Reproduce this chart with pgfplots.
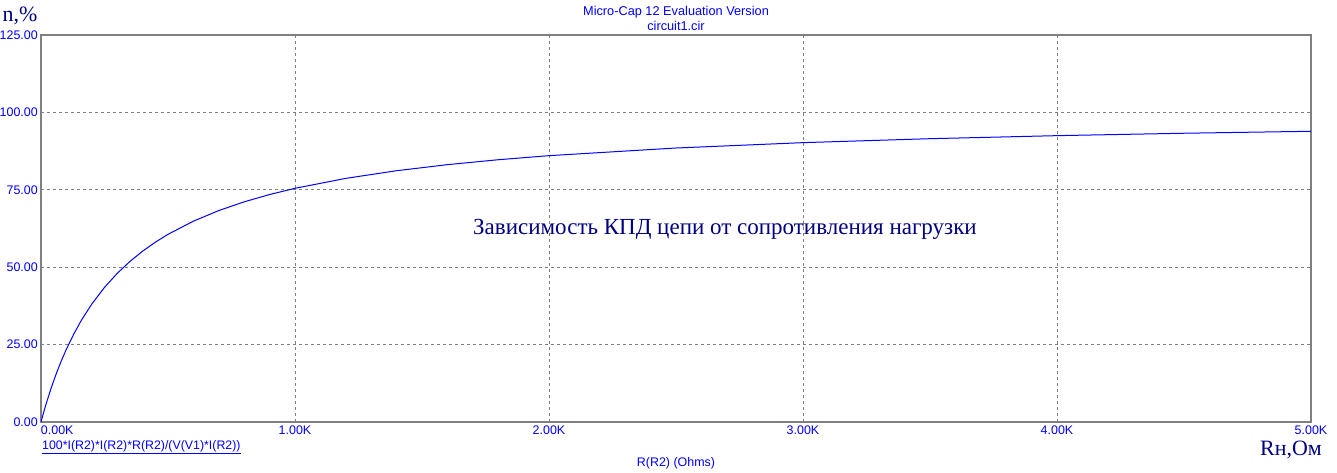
\documentclass[border=0pt]{standalone}
\usepackage{fontspec}
\setmainfont{Liberation Serif}
\newfontfamily\arial{Liberation Sans}
\usepackage{pgfplots}
\pgfplotsset{compat=1.18}
\definecolor{mcblue}{RGB}{0,0,255}
\definecolor{navy}{RGB}{0,0,128}
\definecolor{axgray}{RGB}{128,128,128}
\begin{document}
\begin{tikzpicture}[x=1bp,y=1bp]
\useasboundingbox (-41,-51) rectangle (1296,422);
\begin{axis}[
  at={(0,0)}, anchor=south west,
  width=1270bp, height=387bp, scale only axis,
  xmin=0, xmax=5, ymin=0, ymax=125,
  xtick={0,1,2,3,4,5},
  xticklabels={\makebox[0pt][l]{0.00K},1.00K,2.00K,3.00K,4.00K,5.00K},
  ytick={0,25,50,75,100,125},
  yticklabels={0.00,25.00,50.00,75.00,100.00,125.00},
  major tick length=0pt,
  grid=major,
  major grid style={axgray, line width=0.7bp, dash pattern=on 3bp off 3bp},
  axis line style={axgray, line width=1.3bp},
  ticklabel style={font=\arial\fontsize{12.5}{14}\selectfont, text=mcblue},
  yticklabel style={anchor=east, inner sep=0pt, xshift=-3bp},
  xticklabel style={anchor=north, inner sep=0pt, yshift=-4bp},
  /pgf/number format/assume math mode=true,
]
\addplot[mcblue, line width=1bp] coordinates {
(0,0) (0.01,2.985) (0.02,5.797) (0.04,10.959) (0.06,15.584) (0.08,19.753)
(0.10,23.529) (0.13,28.571) (0.16,32.990) (0.20,38.095) (0.25,43.478)
(0.30,48.0) (0.35,51.852) (0.40,55.172) (0.45,58.065) (0.50,60.606)
(0.60,64.865) (0.70,68.293) (0.80,71.111) (0.90,73.469) (1.00,75.472)
(1.2,78.689) (1.4,81.159) (1.6,83.117) (1.8,84.706) (2.0,86.022)
(2.5,88.496) (3.0,90.226) (3.5,91.503) (4.0,92.486) (4.5,93.264) (5.0,93.897)
};
\end{axis}
\node[font=\arial\fontsize{12.8}{15}\selectfont, text=mcblue, align=center, inner sep=0pt] at (635,404) {Micro-Cap 12 Evaluation Version\\circuit1.cir};
\node[font=\fontsize{22}{24}\selectfont, text=navy, inner sep=0pt] at (-21,406) {n,\%};
\node[font=\fontsize{23.1}{27}\selectfont, text=navy, anchor=base west, inner sep=0pt] at (432,187) {Зависимость КПД цепи от сопротивления нагрузки};
\node[font=\arial\fontsize{12.4}{14}\selectfont, text=mcblue, anchor=west, inner sep=0pt] at (1,-25) {\underline{100*I(R2)*I(R2)*R(R2)/(V(V1)*I(R2))}};
\node[font=\arial\fontsize{12.5}{14}\selectfont, text=mcblue, inner sep=0pt] at (635,-41) {R(R2) (Ohms)};
\node[font=\fontsize{22}{26}\selectfont, text=navy, anchor=base west, inner sep=0pt] at (1219,-34) {Rн,Ом};
\end{tikzpicture}
\end{document}
